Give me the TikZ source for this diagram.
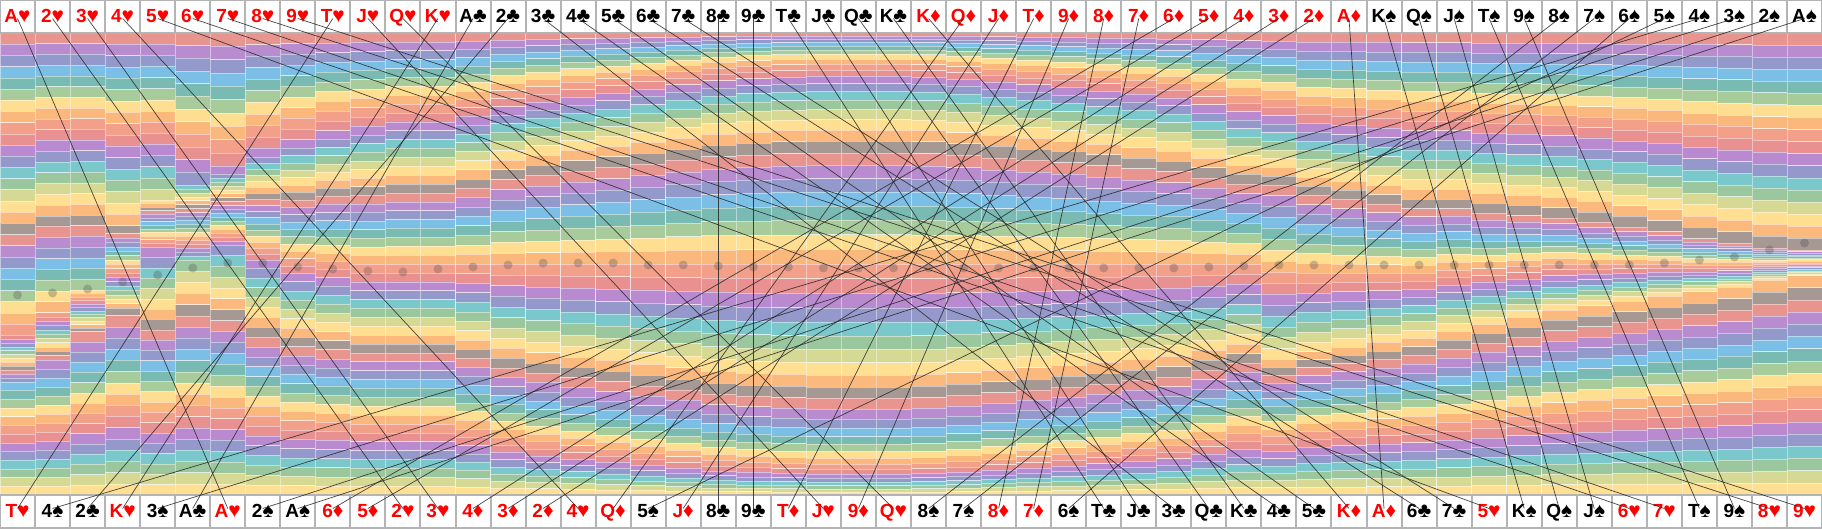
\documentclass[tikz,border=0pt]{standalone}
\usepackage{graphicx}
\usepackage{fontspec}
\setmainfont{Liberation Sans}
\definecolor{c0}{HTML}{E8948F}
\definecolor{c1}{HTML}{B98BCF}
\definecolor{c2}{HTML}{9499CB}
\definecolor{c3}{HTML}{7BBFE6}
\definecolor{c4}{HTML}{79BAB3}
\definecolor{c5}{HTML}{A8CB9B}
\definecolor{c6}{HTML}{FEDF91}
\definecolor{c7}{HTML}{FAB87D}
\definecolor{c8}{HTML}{F3A08A}
\definecolor{c9}{HTML}{E99190}
\definecolor{c10}{HTML}{BA8AD0}
\definecolor{c11}{HTML}{9498CB}
\definecolor{c12}{HTML}{7AC8CC}
\definecolor{c13}{HTML}{9BC79F}
\definecolor{c14}{HTML}{D6D993}
\definecolor{c15}{HTML}{FFDF91}
\definecolor{c16}{HTML}{FBB97D}
\definecolor{c17}{HTML}{A69994}
\definecolor{boxgray}{HTML}{B4B4B4}
\colorlet{colh}{red}
\colorlet{cold}{red}
\colorlet{colc}{black}
\colorlet{cols}{black}
\def\suith{\scalebox{1.1}{♥}}
\def\suitd{\scalebox{1.1}{♦}}
\def\suitc{\scalebox{1.1}{♣}}
\def\suits{\scalebox{1.1}{♠}}
\begin{document}
\begin{tikzpicture}[x=1pt,y=1pt,
  card/.style={draw=boxgray, fill=white, line width=2pt, minimum width=35.04pt,
    minimum height=33pt, inner sep=0pt, text height=12.5pt, text depth=0pt,
    font=\bfseries\fontsize{19}{20}\selectfont},
  stripe/.style={draw=white, draw opacity=0.45, line width=0.5pt},
  meandot/.style={fill=black!70, fill opacity=0.3},
  conn/.style={draw=black!85, line width=0.7pt, draw opacity=0.85}]
\def\cw{35.03846}
\useasboundingbox (0,0) rectangle (1822,528);
\fill[white] (0,0) rectangle (1822,528);
% stripes
\foreach \j/\a/\ya/\b/\yb/\B in {
0/.519/.654/.75/.755/0,
1/.5/.605/.712/.708/0,
2/.4615/.556/.6923/.6465/0,
3/.337/.43/.683/.60/0,
4/.288/.361/.538/.463/0,
5/.231/.329/.596/.491/0,
6/.2/.30/.56/.46/0,
7/.2/.26/.55/.50/0,
8/.2/.24/.55/.53/0,
9/.2/.22/.55/.54/0,
10/.2/.21/.5/.5/0,
11/.3333/.3333/.6667/.6667/0,
12/.3333/.3333/.6667/.6667/0,
13/.3333/.3333/.6667/.6667/0.08,
14/.3333/.3333/.6667/.6667/0.22,
15/.3333/.3333/.6667/.6667/0.29,
16/.3333/.3333/.6667/.6667/0.36,
17/.3333/.3333/.6667/.6667/0.42,
18/.3333/.3333/.6667/.6667/0.48,
19/.3333/.3333/.6667/.6667/0.54,
20/.3333/.3333/.6667/.6667/0.60,
21/.3333/.3333/.6667/.6667/0.63,
22/.3333/.3333/.6667/.6667/0.65,
23/.3333/.3333/.6667/.6667/0.66,
24/.3333/.3333/.6667/.6667/0.66,
25/.3333/.3333/.6667/.6667/0.66,
26/.3333/.3333/.6667/.6667/0.65,
27/.3333/.3333/.6667/.6667/0.62,
28/.3333/.3333/.6667/.6667/0.58,
29/.3333/.3333/.6667/.6667/0.54,
30/.3333/.3333/.6667/.6667/0.50,
31/.3333/.3333/.6667/.6667/0.45,
32/.3333/.3333/.6667/.6667/0.40,
33/.3333/.3333/.6667/.6667/0.35,
34/.3333/.3333/.6667/.6667/0.25,
35/.3333/.3333/.6667/.6667/0.15,
36/.346/.335/.654/.70/0.05,
37/.346/.35/.654/.69/0,
38/.346/.36/.654/.68/0,
39/.346/.37/.654/.67/0,
40/.346/.38/.654/.66/0,
41/.346/.38/.654/.645/0,
42/.346/.39/.654/.63/0,
43/.346/.395/.654/.615/0,
44/.346/.40/.654/.60/0,
45/.346/.41/.654/.59/0,
46/.346/.42/.654/.58/0,
47/.346/.43/.654/.57/0,
48/.346/.445/.654/.56/0,
49/.346/.455/.654/.55/0,
50/.346/.465/.654/.535/0,
51/.346/.47/.654/.525/0}{
  \pgfmathsetmacro\xl{\j*\cw}
  \pgfmathsetmacro\xr{\xl+\cw}
  \foreach \k [remember=\ynew as \yold (initially 495)] in {1,...,52}{
    \pgfmathsetmacro\u{\k/52}
    \pgfmathsetmacro\pl{\u<\a ? \u*\ya/\a : (\u<\b ? \ya+(\u-\a)*(\yb-\ya)/(\b-\a) : \yb+(\u-\b)*(1-\yb)/(1-\b))}
    \pgfmathsetmacro\ynew{495-462*(\pl-\B*sin(360*\u)/6.28319)}
    \pgfmathtruncatemacro\ci{mod(\k-1,18)}
    \path[stripe, fill=c\ci] (\xl,\yold) rectangle (\xr,\ynew);
  }
}
% mean dots
\foreach \j/\dy in {0/295,1/293,2/289,3/282,4/275,5/268,6/263,7/263,8/267,9/269,10/271,11/272,12/269,13/267,14/265,15/263,16/263,17/263,18/265,19/265,20/266,21/267,22/267,23/268,24/268,25/268,26/268,27/268,28/268,29/268,30/268,31/268,32/268,33/268,34/267,35/266,36/265,37/265,38/265,39/265,40/265,41/265,42/265,43/265,44/265,45/265,46/265,47/263,48/260,49/257,50/250,51/243}{
  \fill[meandot] ({(\j+0.5)*\cw},{528-\dy}) circle (4.5);
}
% top cards
\foreach \rk/\su [count=\n from 0] in {A/h,2/h,3/h,4/h,5/h,6/h,7/h,8/h,9/h,T/h,J/h,Q/h,K/h,A/c,2/c,3/c,4/c,5/c,6/c,7/c,8/c,9/c,T/c,J/c,Q/c,K/c,K/d,Q/d,J/d,T/d,9/d,8/d,7/d,6/d,5/d,4/d,3/d,2/d,A/d,K/s,Q/s,J/s,T/s,9/s,8/s,7/s,6/s,5/s,4/s,3/s,2/s,A/s}{
  \node[card, text=col\su] (t\n) at ({(\n+0.5)*\cw},511.5) {\rk\csname suit\su\endcsname};
}
% bottom cards
\foreach \rk/\su [count=\n from 0] in {T/h,4/s,2/c,K/h,3/s,A/c,A/h,2/s,A/s,6/d,5/d,2/h,3/h,4/d,3/d,2/d,4/h,Q/d,5/s,J/d,8/c,9/c,T/d,J/h,9/d,Q/h,8/s,7/s,8/d,7/d,6/s,T/c,J/c,3/c,Q/c,K/c,4/c,5/c,K/d,A/d,6/c,7/c,5/h,K/s,Q/s,J/s,6/h,7/h,T/s,9/s,8/h,9/h}{
  \node[card, text=col\su] (b\n) at ({(\n+0.5)*\cw},16.5) {\rk\csname suit\su\endcsname};
}
% connectors
\foreach \i/\j in {0/6,1/11,2/12,3/16,4/42,5/46,6/47,7/50,8/51,9/0,10/23,11/25,12/3,13/5,14/2,15/33,16/36,17/37,18/40,19/41,20/20,21/21,22/31,23/32,24/34,25/35,26/38,27/17,28/19,29/22,30/24,31/28,32/29,33/9,34/10,35/13,36/14,37/15,38/39,39/43,40/44,41/45,42/48,43/49,44/26,45/27,46/30,47/18,48/1,49/4,50/7,51/8}{
  \draw[conn] ([yshift=-2pt]t\i.center) -- ([yshift=3pt]b\j.center);
}
\end{tikzpicture}
\end{document}
